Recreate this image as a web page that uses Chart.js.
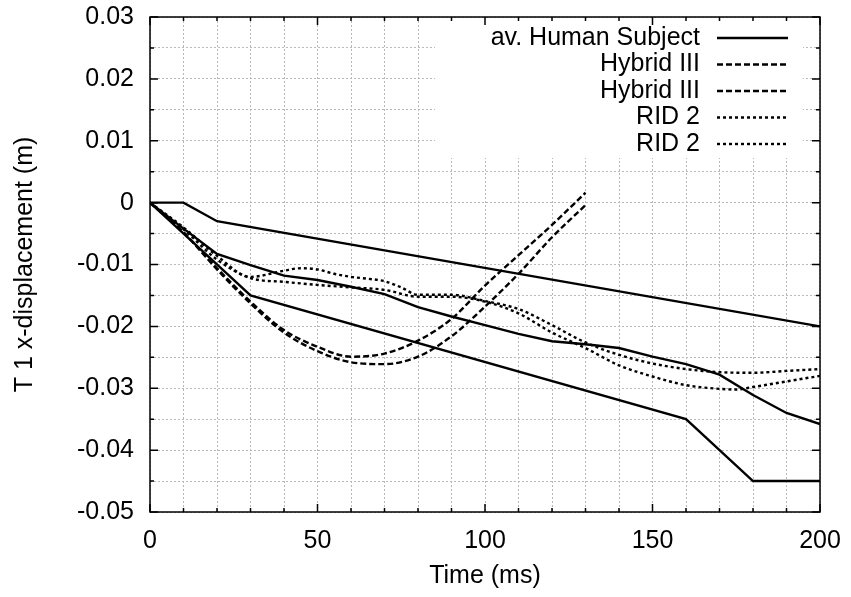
<!DOCTYPE html>
<html>
<head>
<meta charset="utf-8">
<script src="https://cdn.jsdelivr.net/npm/chart.js@4.4.0/dist/chart.umd.min.js"></script>
<style>
  html, body { margin: 0; padding: 0; background: #fff; }
  #wrap { width: 851px; height: 597px; }
</style>
</head>
<body>
<div id="wrap"><canvas id="chart1"></canvas></div>
<script>
// DATA: TIME IN ms, T1 X-DISPLACEMENT IN m
// av. Human Subject corridor (three solid lines)
const humanUpperT = [0, 10, 20, 200];
const humanUpperV = [0, 0, -0.003, -0.020];

const humanMidT = [0, 10, 20, 30, 40, 50, 60, 70, 80, 90, 100, 110, 120, 130, 140, 150, 160, 170, 180, 190, 200];
const humanMidV = [0, -0.0042, -0.0083, -0.0101, -0.0118, -0.0125, -0.0136, -0.0148, -0.0169, -0.0184, -0.0198,
  -0.0212, -0.0224, -0.0229, -0.0235, -0.0249, -0.0261, -0.0278, -0.0311, -0.0340, -0.0358];

const humanLowT = [0, 30, 160, 180, 200];
const humanLowV = [0, -0.015, -0.035, -0.045, -0.045];

// Hybrid III (two dashed lines)
const hybridT = [0, 10, 20, 30, 40, 50, 60, 70, 80, 90, 100, 110, 120, 130];
const hybridAV = [0, -0.0048, -0.0106, -0.0160, -0.0206, -0.0233, -0.0249, -0.0244, -0.0223, -0.0188, -0.0134, -0.0085, -0.0036, 0.0016];
const hybridBV = [0, -0.0048, -0.0108, -0.0163, -0.0210, -0.0240, -0.0258, -0.0261, -0.0249, -0.0216, -0.0168, -0.0115, -0.0056, -0.0004];

// RID 2 (two dotted lines)
const ridAT = [0, 10, 20, 30, 40, 45, 50, 55, 60, 65, 70, 75, 80, 90, 100, 110, 120, 130, 140, 150, 160, 170, 180, 190, 200];
const ridAV = [0, -0.0040, -0.0086, -0.0120, -0.0110, -0.0106, -0.0108, -0.0115, -0.0120, -0.0123, -0.0127, -0.0137, -0.0149,
  -0.0149, -0.0159, -0.0172, -0.0198, -0.0226, -0.0246, -0.0260, -0.0269, -0.0274, -0.0275, -0.0272, -0.0269];

const ridBT = [0, 10, 20, 30, 40, 50, 60, 70, 80, 90, 100, 110, 120, 130, 140, 150, 160, 170, 175, 180, 190, 200];
const ridBV = [0, -0.0043, -0.0092, -0.0122, -0.0128, -0.0133, -0.0137, -0.0141, -0.0152, -0.0152, -0.0160, -0.0179,
  -0.0210, -0.0235, -0.0263, -0.0281, -0.0295, -0.0301, -0.0302, -0.0298, -0.0289, -0.0280];

const FONT = "'Liberation Sans', Arial, Helvetica, sans-serif";
const FSIZE = 25;
const SOLID = [];
const DASHED = [6, 3];
const DOTTED = [3, 3];

function toPoints(ts, vs) {
  return ts.map((t, i) => ({ x: t, y: vs[i] }));
}

// label is only set on the datasets that get a key entry
function lineSet(label, ts, vs, dash, smooth) {
  return {
    label: label,
    data: toPoints(ts, vs),
    borderColor: "#000",
    borderWidth: 2.4,
    borderDash: dash,
    pointRadius: 0,
    tension: 0,
    cubicInterpolationMode: smooth ? "monotone" : "default",
    fill: false,
  };
}

//GNUPLOT STYLE KEY: TEXT RIGHT ALIGNED, LINE SAMPLE TO THE RIGHT
const keyPlugin = {
  id: "key",
  beforeDatasetsDraw(chart) {
    const { ctx, chartArea: a } = chart;
    ctx.save();
    ctx.fillStyle = "#fff";
    ctx.fillRect(435, a.top + 1, a.right - 17 - 435, 140);
    ctx.restore();
  },
  afterDatasetsDraw(chart) {
    const { ctx, chartArea: a } = chart;
    const entries = chart.data.datasets.filter((d) => d.label);
    ctx.save();
    ctx.font = FSIZE + "px " + FONT;
    ctx.fillStyle = "#000";
    ctx.textAlign = "right";
    ctx.textBaseline = "middle";
    entries.forEach((d, i) => {
      const yy = a.top + 21 + i * 26.5;
      ctx.fillText(d.label, a.right - 120, yy);
      ctx.beginPath();
      ctx.strokeStyle = "#000";
      ctx.lineWidth = d.borderWidth;
      ctx.setLineDash(d.borderDash);
      ctx.moveTo(a.right - 103, yy);
      ctx.lineTo(a.right - 32, yy);
      ctx.stroke();
    });
    ctx.restore();
  },
};

//FRAME AND INWARD TICKS ON ALL FOUR SIDES
const framePlugin = {
  id: "frame",
  afterDatasetsDraw(chart) {
    const { ctx, chartArea: a, scales } = chart;
    ctx.save();
    ctx.strokeStyle = "#000";
    ctx.lineWidth = 1.5;
    ctx.setLineDash([]);
    ctx.strokeRect(a.left, a.top, a.right - a.left, a.bottom - a.top);
    ctx.beginPath();
    scales.x.ticks.forEach((t) => {
      const px = scales.x.getPixelForValue(t.value);
      const len = Math.round(t.value) % 50 === 0 ? 8 : 4;
      ctx.moveTo(px, a.bottom);
      ctx.lineTo(px, a.bottom - len);
      ctx.moveTo(px, a.top);
      ctx.lineTo(px, a.top + len);
    });
    scales.y.ticks.forEach((t) => {
      const py = scales.y.getPixelForValue(t.value);
      const len = Math.round(t.value * 1000) % 10 === 0 ? 8 : 4;
      ctx.moveTo(a.left, py);
      ctx.lineTo(a.left + len, py);
      ctx.moveTo(a.right, py);
      ctx.lineTo(a.right - len, py);
    });
    ctx.stroke();
    ctx.restore();
  },
};

const ctx = document.getElementById("chart1").getContext("2d");
const myChart = new Chart(ctx, {
  type: "line",
  data: {
    datasets: [
      lineSet("av. Human Subject", humanUpperT, humanUpperV, SOLID, false),
      lineSet("", humanMidT, humanMidV, SOLID, false),
      lineSet("", humanLowT, humanLowV, SOLID, false),
      lineSet("Hybrid III", hybridT, hybridAV, DASHED, true),
      lineSet("Hybrid III", hybridT, hybridBV, DASHED, true),
      lineSet("RID 2", ridAT, ridAV, DOTTED, true),
      lineSet("RID 2", ridBT, ridBV, DOTTED, true),
    ],
  },
  options: {
    responsive: true,
    maintainAspectRatio: false,
    animation: false,
    layout: { padding: { top: 17, right: 31, left: 0, bottom: 0 } },
    plugins: { legend: { display: false }, tooltip: { enabled: false } },
    scales: {
      x: {
        type: "linear",
        min: 0,
        max: 200,
        // fixed axis band, no label overhang padding
        afterFit: (s) => { s.height = 85; s.paddingLeft = 0; s.paddingRight = 0; },
        ticks: {
          stepSize: 10,
          autoSkip: false,
          maxRotation: 0,
          padding: 14,
          color: "#000",
          font: { family: FONT, size: FSIZE },
          callback: (v) => (Math.round(v) % 50 === 0 ? String(Math.round(v)) : ""),
        },
        grid: { color: "#b8b8b8", lineWidth: 1, drawTicks: false },
        border: { display: false, dash: [2, 2] },
        title: {
          display: true,
          text: "Time (ms)",
          color: "#000",
          font: { family: FONT, size: FSIZE },
          padding: { top: 0, bottom: 6 },
        },
      },
      y: {
        min: -0.05,
        max: 0.03,
        afterFit: (s) => { s.width = 150; s.paddingTop = 0; s.paddingBottom = 0; },
        ticks: {
          stepSize: 0.005,
          autoSkip: false,
          padding: 16,
          color: "#000",
          font: { family: FONT, size: FSIZE },
          callback: (v) => {
            const m = Math.round(v * 1000);
            return m % 10 === 0 ? String(m / 1000) : "";
          },
        },
        grid: { color: "#b8b8b8", lineWidth: 1, drawTicks: false },
        border: { display: false, dash: [2, 2] },
        title: {
          display: true,
          text: "T 1 x-displacement (m)",
          color: "#000",
          font: { family: FONT, size: FSIZE },
          padding: { top: 10, bottom: 0 },
        },
      },
    },
  },
  plugins: [keyPlugin, framePlugin],
});
</script>
</body>
</html>
